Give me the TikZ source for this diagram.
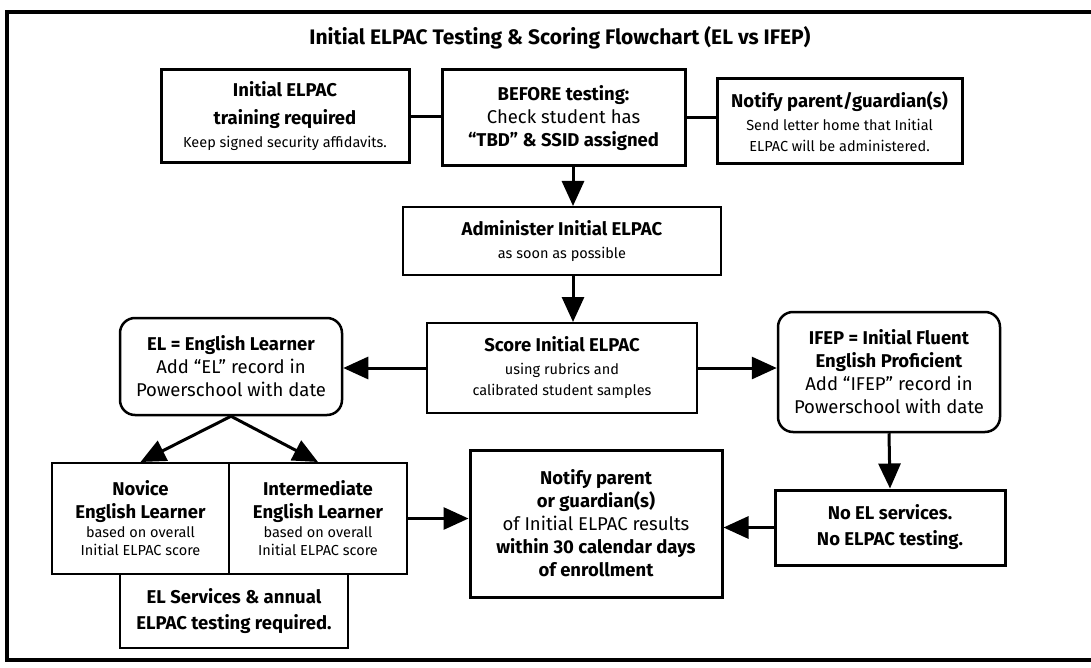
\documentclass[tikz,border=0pt]{standalone}
\usepackage{fontspec}
\setmainfont{Fira Sans}
\usetikzlibrary{arrows.meta}
\newcommand{\hd}{\fontsize{18.5}{23}\selectfont\bfseries}
\newcommand{\rg}{\fontsize{18.5}{23}\selectfont}
\newcommand{\sm}{\fontsize{14.5}{18}\selectfont}

\begin{document}
\begin{tikzpicture}[x=1pt,y=-1pt,>={Triangle[length=25pt,width=22pt]},
  box/.style={draw,line width=2pt,fill=white,align=center,inner sep=0pt,
    font=\fontsize{17}{23}\selectfont},
  thickbox/.style={box,line width=3pt},
  roundbox/.style={box,line width=2.5pt,rounded corners=15pt},
  link/.style={line width=3pt}]
\useasboundingbox (0,0) rectangle (1091,668);
\draw[line width=3.5pt] (1095,12) -| (7,660) -- (1095,660);
\node[font=\fontsize{21}{25}\selectfont\bfseries] (title) at (560,38)
  {Initial ELPAC Testing \& Scoring Flowchart (EL vs IFEP)};

% top row
\node[thickbox,minimum width=248,minimum height=93] (train) at (285,116.5)
  {\hd Initial ELPAC\\[5pt] \hd training required\\[0pt] \sm Keep signed security affidavits.};
\node[thickbox,minimum width=243,minimum height=96] (before) at (563.5,118)
  {\hd BEFORE testing:\\ \rg Check student has\\ \hd “TBD” \& SSID assigned};
\node[thickbox,minimum width=245,minimum height=85] (notif) at (839.5,121.5)
  {\hd Notify parent/guardian(s)\\ \sm Send letter home that Initial\\[-2pt] \sm ELPAC will be administered.};

% middle column
\coordinate (mid) at (573,0);
\node[box,minimum width=318,minimum height=68] (admin) at (562,241)
  {\hd Administer Initial ELPAC\\ \sm as soon as possible};
\node[box,minimum width=270,minimum height=90] (score) at (562,368)
  {\hd Score Initial ELPAC\\ \sm using rubrics and\\[-2pt] \sm calibrated student samples};

% outcomes
\node[roundbox,minimum width=222,minimum height=97] (el) at (231,366.5)
  {\hd EL = English Learner\\ \rg Add “EL” record in\\ \rg Powerschool with date};
\node[roundbox,minimum width=222,minimum height=120] (ifep) at (889,372)
  {\hd IFEP = Initial Fluent\\ \hd English Proficient\\ \rg Add “IFEP” record in\\ \rg Powerschool with date};

% bottom row
\node[box,minimum width=177,minimum height=111] (novice) at (140.5,518.5)
  {\hd Novice\\ \hd English Learner\\[-4pt] \sm based on overall\\[-5pt] \sm Initial ELPAC score};
\node[box,minimum width=178,minimum height=111] (inter) at (318,518.5)
  {\hd Intermediate\\ \hd English Learner\\[-4pt] \sm based on overall\\[-5pt] \sm Initial ELPAC score};
\node[box,minimum width=228,minimum height=74] (elserv) at (234,611)
  {\hd EL Services \& annual\\[3pt] \hd ELPAC testing required.};
\node[thickbox,minimum width=252,minimum height=147] (notpar) at (596,523.5)
  {\hd Notify parent\\ \hd or guardian(s)\\ \rg of Initial ELPAC results\\ \hd within 30 calendar days\\ \hd of enrollment};
\node[thickbox,minimum width=230,minimum height=75] (noel) at (890,527.5)
  {\hd No EL services.\\[3pt] \hd No ELPAC testing.};

% connectors
\draw[link] (train.east) -- (train.east -| before.west);
\draw[link] (before.east |- 0,118) -- (notif.west |- 0,118);
\draw[link,->] (before.south -| mid) -- (admin.north -| mid);
\draw[link,->] (admin.south -| mid) -- (score.north -| mid);
\draw[link,->] (score.west) -- (score.west -| el.east);
\draw[link,->] (score.east) -- (score.east -| ifep.west);
\draw[link,->] (el.south) -- (novice.north);
\draw[link,->] (el.south) -- (inter.north);
\draw[link,->] (inter.east) -- (inter.east -| notpar.west);
\draw[link,->] (ifep.south) -- (noel.north);
\draw[link,->] (noel.west) -- (noel.west -| notpar.east);

\end{tikzpicture}
\end{document}
